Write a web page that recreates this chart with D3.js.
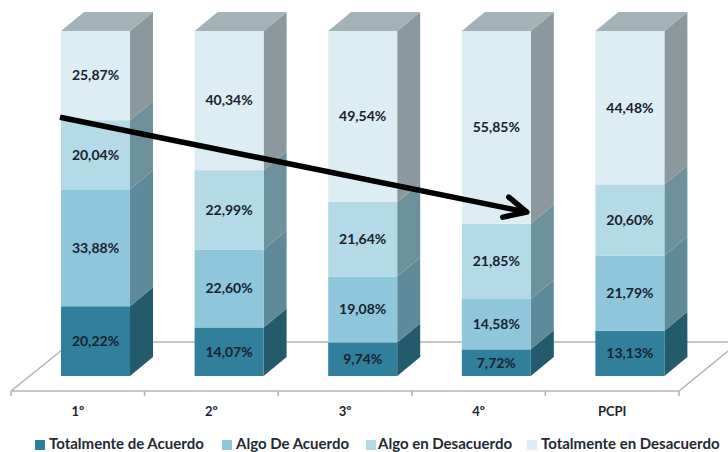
<!DOCTYPE html>
<html><head><meta charset="utf-8">
<script src="https://cdn.jsdelivr.net/npm/d3@7/dist/d3.min.js"></script>
<style>html,body{margin:0;padding:0;background:#fff}svg{display:block}text{font-family:Lato,"Open Sans",sans-serif;font-weight:700}</style>
</head><body><svg id="c" width="728" height="452"></svg>
<script>
const categories = ["1º","2º","3º","4º","PCPI"];
const seriesNames = ["Totalmente de Acuerdo","Algo De Acuerdo","Algo en Desacuerdo","Totalmente en Desacuerdo"];
const totalmenteAcuerdo = [20.22,14.07,9.74,7.72,13.13];
const algoAcuerdo = [33.88,22.60,19.08,14.58,21.79];
const algoDesacuerdo = [20.04,22.99,21.64,21.85,20.60];
const totalmenteDesacuerdo = [25.87,40.34,49.54,55.85,44.48];
const seriesValues = [totalmenteAcuerdo,algoAcuerdo,algoDesacuerdo,totalmenteDesacuerdo];
const frontColors = ["#31809b","#8fc6da","#b3dae6","#dcedf4"];
const sideColors = ["#235b6d","#5e8a99","#6e929d","#8b999f"];
const topColor = "#a3b2b7";
const legendTextX = [49,236,378,541];
const legendSwatchX = [35,222,366,527];

const svg = d3.select("#c");
const floorLeft = 11, floorRight = 679, baseY = 376, topY = 31, dx = 23, dy = 19;
const x = d3.scaleBand().domain(categories).range([floorLeft,floorRight]);
const barW = 69;
const barOffset = 50;
const barX = c => x(c) + barOffset;
const y = d3.scaleLinear().domain([0,100]).range([baseY,topY]);
const poly = pts => pts.map(p=>p.join(",")).join(" ");

// floor
const floor = svg.append("g").attr("fill","none").attr("stroke","#b4b4b4").attr("stroke-width",1.6);
floor.append("polyline").attr("points",poly([[floorLeft,391],[72,342],[728,342]]));
floor.append("polyline").attr("points",poly([[728,351],[floorRight,391],[floorLeft,391]]));
const tickPos = categories.map(c=>x(c)).concat([floorRight]);
floor.selectAll("line").data(tickPos).join("line")
  .attr("x1",d=>d).attr("x2",d=>d).attr("y1",391).attr("y2",396);

// bars
categories.forEach((c,i)=>{
  const g = svg.append("g");
  const X = barX(c);
  let acc = 0;
  const segs = seriesValues.map((s,k)=>{
    const r = {k,v:s[i],y0:y(acc),y1:y(acc+s[i])};
    acc += s[i];
    return r;
  });
  const topEdge = segs[3].y1;
  g.selectAll(".side").data(segs).join("polygon")
    .attr("fill",d=>sideColors[d.k])
    .attr("points",d=>poly([[X+barW,d.y0],[X+barW+dx,d.y0-dy],[X+barW+dx,d.y1-dy],[X+barW,d.y1]]));
  g.append("polygon").attr("fill",topColor)
    .attr("points",poly([[X,topEdge],[X+dx,topEdge-dy],[X+barW+dx,topEdge-dy],[X+barW,topEdge]]));
  g.selectAll(".front").data(segs).join("rect")
    .attr("x",X).attr("width",barW).attr("y",d=>d.y1).attr("height",d=>d.y0-d.y1)
    .attr("fill",d=>frontColors[d.k]);
  g.selectAll(".lab").data(segs).join("text")
    .attr("x",X+barW/2).attr("y",d=>(d.y0+d.y1)/2).attr("dy","0.35em")
    .attr("text-anchor","middle").attr("font-size",14).attr("fill","#18222e")
    .text(d=>d.v.toFixed(2).replace(".",",")+"%");
  svg.append("text").attr("x",x(c)+x.bandwidth()/2).attr("y",411.5).attr("dy","0.35em")
    .attr("text-anchor","middle").attr("font-size",13).attr("fill","#1c2630").text(c);
});

// arrow, anchored on the chart scales
const ax0 = barX("1º")-1, ay0 = y(75);
const ax1 = barX("4º")+barW-4, ay1 = y(47.5);
const arrow = svg.append("g").attr("fill","none").attr("stroke","#000").attr("stroke-width",5.5).attr("stroke-linecap","round").attr("stroke-linejoin","round");
arrow.append("line").attr("x1",ax0).attr("y1",ay0).attr("x2",ax1).attr("y2",ay1).attr("stroke-linecap","butt");
arrow.append("polyline").attr("points",poly([[ax1-18,ay1-15],[ax1,ay1],[ax1-24,ay1+5]]));

// legend
const lg = svg.append("g").selectAll("g").data(seriesNames).join("g");
lg.append("rect").attr("x",(d,i)=>legendSwatchX[i]).attr("y",440).attr("width",10).attr("height",10).attr("fill",(d,i)=>frontColors[i]);
lg.append("text").attr("x",(d,i)=>legendTextX[i]).attr("y",448.7).attr("font-size",15).attr("fill","#1f2a33").text(d=>d);
</script></body></html>
